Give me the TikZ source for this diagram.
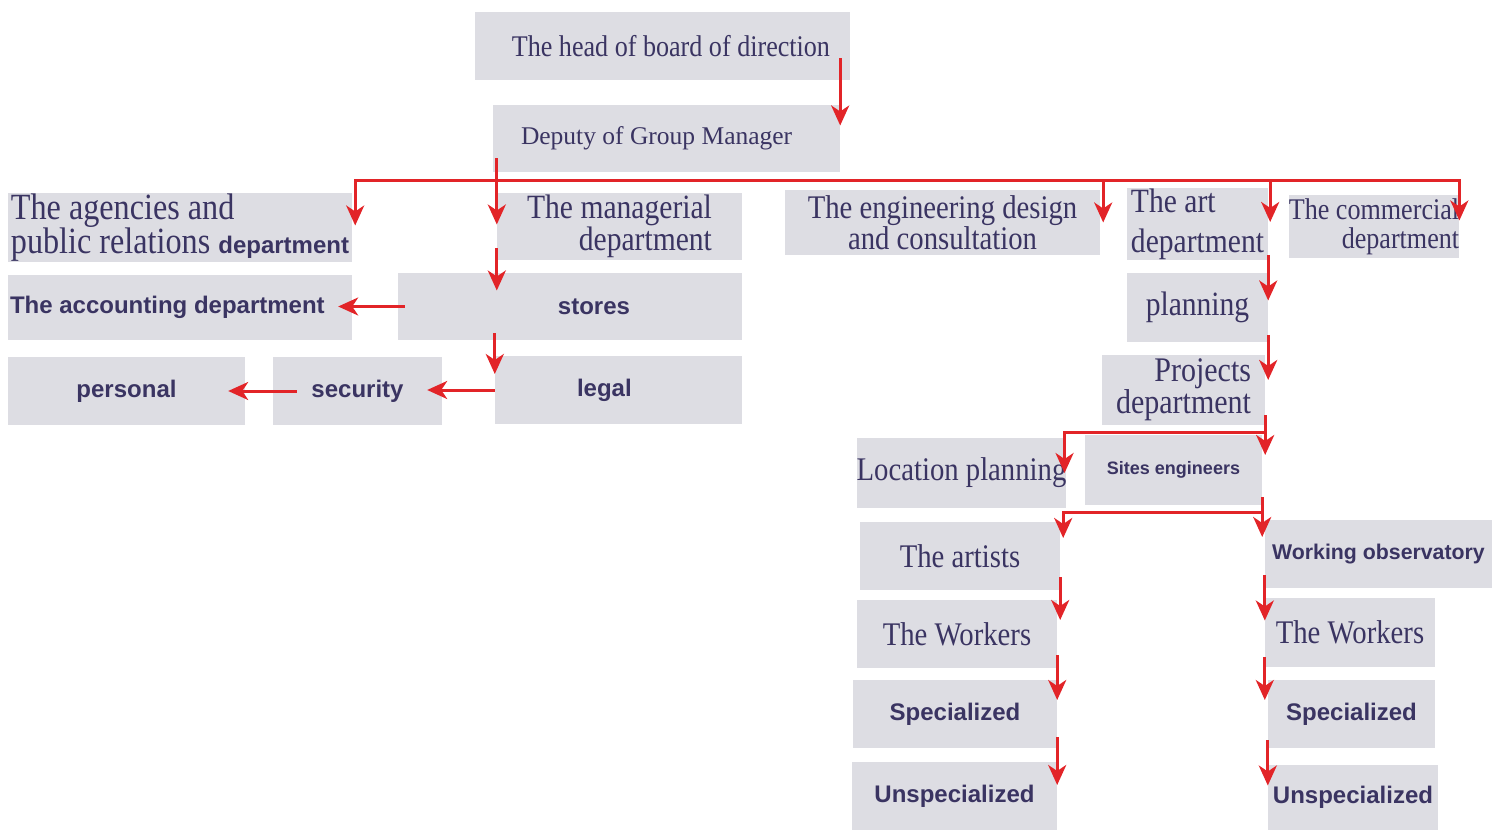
\documentclass[tikz,border=0pt]{standalone}
\usepackage{fontspec}
\setmainfont{Liberation Serif}[FakeStretch=0.87]
\setsansfont{Liberation Sans}
\newfontfamily\deputyfont{Liberation Serif}
\usetikzlibrary{arrows.meta}
\definecolor{ink}{RGB}{58,52,98}
\definecolor{boxgray}{RGB}{221,221,227}
\definecolor{arrred}{RGB}{226,36,40}
\newcommand\boldpart[1]{{\sffamily\bfseries\fontsize{24}{26}\selectfont #1}}

\begin{document}
\begin{tikzpicture}[x=1pt,y=-1pt,
  box/.style={fill=boxgray, text=ink, inner sep=0pt, minimum height=68pt},
  lite/.style={font=\fontsize{33}{30}\selectfont},
  heavy/.style={font=\sffamily\bfseries\fontsize{24}{26}\selectfont},
  wire/.style={draw=arrred, line width=3pt},
  arr/.style={wire, -{Stealth[length=20pt,width=18pt,inset=6pt]}}]
\useasboundingbox (0,0) rectangle (1500,830);

% top
\node[box, font=\fontsize{30}{30}\selectfont, align=flush right, inner xsep=20pt, text width=335pt] (head) at (662.5,46) {The head of board of direction};
\node[box, font=\deputyfont\fontsize{25.5}{28}\selectfont, align=flush left, inner xsep=28pt, text width=291pt, minimum height=67pt] (deputy) at (666.5,138.5) {Deputy of Group Manager};

% first row
\node[box, font=\fontsize{37}{31}\selectfont, align=left, minimum width=344pt, minimum height=69pt] (agencies) at (180,227.5) {The agencies and\\public relations \boldpart{department}};
\node[box, font=\fontsize{34}{30}\selectfont, align=right, minimum width=245pt, minimum height=67pt] (managerial) at (619.5,226.5) {The managerial\\department};
\node[box, font=\fontsize{33}{29}\selectfont, align=center, minimum width=315pt, minimum height=65pt] (engineering) at (942.5,222.5) {The engineering design\\and consultation};
\node[box, font=\fontsize{34}{40}\selectfont, align=left, minimum width=141pt, minimum height=72pt] (art) at (1197.5,224) {The art\\department};
\node[box, font=\fontsize{30}{29}\selectfont, align=right, minimum width=168pt, minimum height=63pt] (commercial) at (1374,226.5) {The commercial\\department};

% left side
\node[box, heavy, align=flush left, inner xsep=2pt, text width=340pt, minimum height=65pt] (accounting) at (180,307.5) {The accounting\ department};
\node[box, heavy, align=flush right, inner xsep=112pt, text width=120pt, minimum height=67pt] (stores) at (570,306.5) {stores};
\node[box, heavy, minimum width=237pt] (personal) at (126.5,391) {personal};
\node[box, heavy, minimum width=169pt] (security) at (357.5,391) {security};
\node[box, heavy, align=flush left, inner xsep=82pt, text width=83pt] (legal) at (618.5,390) {legal};

% right side
\node[box, font=\fontsize{34}{30}\selectfont, minimum width=141pt, minimum height=69pt] (planning) at (1197.5,307.5) {planning};
\node[box, font=\fontsize{34.5}{30}\selectfont, align=right, minimum width=163pt, minimum height=70pt] (projects) at (1183.5,390) {Projects\\department};
\node[box, lite, minimum width=207pt, minimum height=70pt] (location) at (961.5,473) {Location planning};
\node[box, font=\sffamily\bfseries\fontsize{18}{20}\selectfont, minimum width=177pt, minimum height=70pt] (sites) at (1173.5,470) {Sites engineers};
\node[box, lite, minimum width=200pt] (artists) at (960,556) {The artists};
\node[box, font=\sffamily\bfseries\fontsize{21.3}{24}\selectfont, minimum width=227pt] (working) at (1378.5,554) {Working observatory};
\node[box, lite, minimum width=200pt] (workersL) at (957,634) {The Workers};
\node[box, lite, minimum width=170pt, minimum height=69pt] (workersR) at (1350,632.5) {The Workers};
\node[box, heavy, minimum width=204pt] (specL) at (955,714) {Specialized};
\node[box, heavy, minimum width=167pt] (specR) at (1351.5,714) {Specialized};
\node[box, heavy, minimum width=205pt] (unspecL) at (954.5,796) {Unspecialized};
\node[box, heavy, minimum width=170pt, minimum height=65pt] (unspecR) at (1353,797.5) {Unspecialized};

% connectors
\coordinate (bus) at (0,180);
\draw[arr] ([yshift=-12pt]head.center -| deputy.east) -- ([yshift=13pt]deputy.east);
\draw[arr] (bus -| managerial.west) -| ([xshift=3pt,yshift=2pt]agencies.east);
\draw[arr] (bus -| managerial.west) -| ([yshift=6pt]commercial.east);
\draw[arr] ([yshift=14pt]deputy.south -| managerial.west) -- ([yshift=2pt]managerial.west);
\draw[arr] ([xshift=3pt]bus -| engineering.east) -- ([xshift=3pt]engineering.east);
\draw[arr] ([xshift=2pt]bus -| art.east) -- ([xshift=2pt,yshift=2pt]art.east);

\draw[arr] ([yshift=12pt]managerial.south west) -- ([yshift=16pt]managerial.west |- stores.west);
\draw[arr] ([xshift=7pt]stores.west) -- ([xshift=-14pt]stores.west -| accounting.east);
\draw[arr] ([yshift=7pt]stores.south -| legal.west) -- ([yshift=16pt]legal.west);
\draw[arr] (legal.west) -- ([xshift=-15pt]security.east |- legal.west);
\draw[arr] ([xshift=24pt]security.west) -- ([xshift=-17pt]personal.east |- security.west);

\draw[arr] ([yshift=5pt]art.south east) -- ([yshift=7pt]art.east |- planning.east);
\draw[arr] ([yshift=7pt]planning.south east) -- ([yshift=10pt]planning.east |- projects.east);
\draw[arr] ([yshift=10pt]projects.south east) -- ([yshift=15pt]projects.east |- sites.east);
\draw[arr] ([yshift=-7pt]projects.south east) -| ([xshift=-2pt]location.east);
\draw[arr] ([yshift=8pt]sites.south east) -- ([yshift=17pt]sites.east |- working.west);
\draw[arr] ([yshift=-7pt]sites.south east) -| ([xshift=3pt,yshift=18pt]artists.east);

\draw[arr] ([yshift=13pt]artists.south east) -- ([yshift=14pt]artists.east |- workersL.east);
\draw[arr] ([yshift=13pt]workersL.south east) -- ([yshift=14pt]workersL.east |- specL.east);
\draw[arr] ([yshift=11pt]specL.south east) -- ([yshift=11pt]specL.east |- unspecL.east);
\draw[arr] ([yshift=13pt]working.south west) -- ([yshift=12pt]working.west |- workersR.west);
\draw[arr] ([yshift=10pt]workersR.south west) -- ([yshift=14pt]workersR.west |- specR.west);
\draw[arr] ([yshift=8pt]specR.south west) -- ([yshift=12pt]specR.west |- unspecR.west);

\end{tikzpicture}
\end{document}
